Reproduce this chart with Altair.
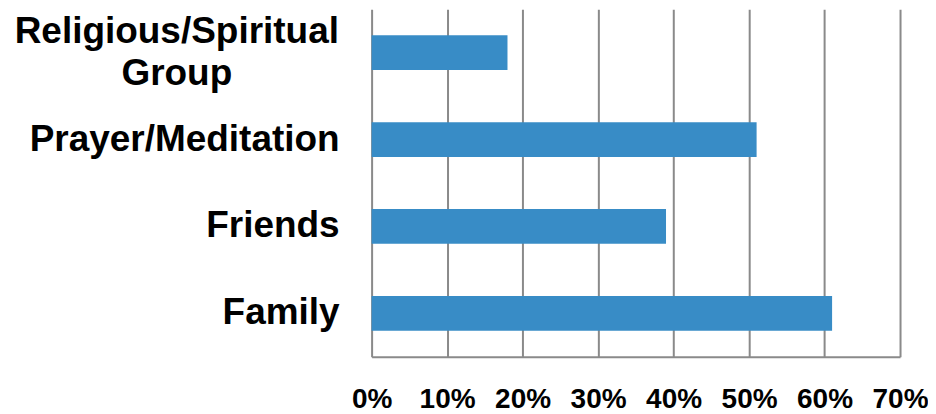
import altair as alt
import pandas as pd

categories = ["Religious/Spiritual Group", "Prayer/Meditation", "Friends", "Family"]
label_lines = ["Religious/Spiritual\nGroup", "Prayer/Meditation", "Friends", "Family"]
multi_line = [True, False, False, False]
values = [0.18, 0.51, 0.39, 0.61]
tick_values = [0, 0.1, 0.2, 0.3, 0.4, 0.5, 0.6, 0.7]

df = pd.DataFrame({
    "category": categories,
    "label": label_lines,
    "multi": multi_line,
    "value": values,
})

FONT = "Liberation Sans"

yenc = alt.Y(
    "category:N",
    sort=categories,
    scale=alt.Scale(paddingInner=0.6, paddingOuter=0.3),
    axis=None,
)

bars = alt.Chart(df).mark_bar(color="#388CC6").encode(
    x=alt.X(
        "value:Q",
        scale=alt.Scale(domain=[0, 0.7], nice=False),
        axis=alt.Axis(
            values=tick_values,
            format=".0%",
            grid=True,
            gridColor="#8a8a8a",
            gridWidth=2,
            domainColor="#8a8a8a",
            domainWidth=2,
            ticks=False,
            labelFont=FONT,
            labelFontWeight="bold",
            labelFontSize=28,
            labelColor="black",
            labelPadding=29,
            labelFlush=False,
            title=None,
        ),
    ),
    y=yenc,
)

single = alt.Chart(df).transform_filter("!datum.multi").mark_text(
    align="right", baseline="middle", font=FONT, fontWeight="bold",
    fontSize=37, color="black",
).encode(x=alt.value(-32), y=yenc, text="label:N")

multi = alt.Chart(df).transform_filter("datum.multi").mark_text(
    align="center", baseline="middle", font=FONT, fontWeight="bold",
    fontSize=37, color="black", lineBreak="\n", lineHeight=42, dy=-21,
).encode(x=alt.value(-195), y=yenc, text="label:N")

chart = alt.layer(bars, single, multi).properties(
    width=529,
    height=348,
    padding={"left": 364, "top": 1, "right": 28, "bottom": 57},
    autosize=alt.AutoSizeParams(type="none"),
).configure_view(stroke=None)

chart.save("out.html", embed_options={"renderer": "svg", "actions": False})
